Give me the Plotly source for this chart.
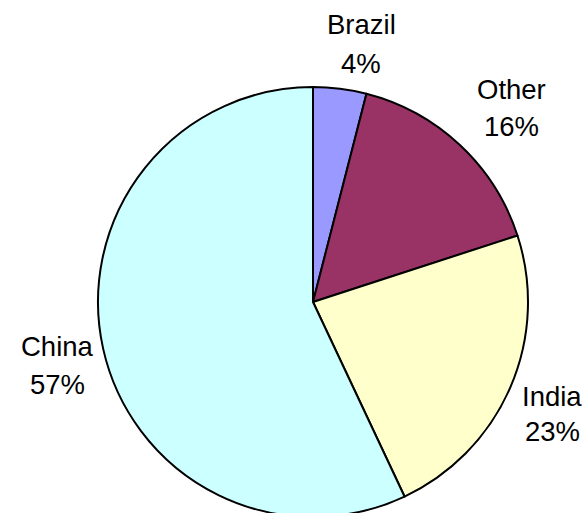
import plotly.graph_objects as go

labels = ["Brazil", "Other", "India", "China"]
values = [4, 16, 23, 57]
pct_text = ["4%", "16%", "23%", "57%"]
colors = ["#9999FF", "#993366", "#FFFFCC", "#CCFFFF"]

# label block placement (pixel centers of name line and percent line)
W, H = 586, 530
L, R, T, B = 98, 58, 87, 13
name_px = [(361, 24.5), (511, 89.5), (552, 396.5), (57, 346)]
pct_px = [(361, 63.5), (511, 127), (552, 431), (57, 384)]

def to_paper(px, py):
    pw = W - L - R
    ph = H - T - B
    return (px - L) / pw, 1 - (py - T) / ph

fig = go.Figure(go.Pie(
    labels=labels, values=values, sort=False, direction="clockwise", rotation=0,
    marker=dict(colors=colors, line=dict(color="black", width=2)),
    textinfo="none", hoverinfo="label+percent", showlegend=False,
))

font = dict(family="Liberation Sans, Arial, sans-serif", size=27.5, color="black")
ann = []
for i in range(len(labels)):
    for txt, (px, py) in ((labels[i], name_px[i]), (pct_text[i], pct_px[i])):
        x, y = to_paper(px, py)
        ann.append(dict(x=x, y=y, xref="paper", yref="paper", text=txt, showarrow=False,
                        xanchor="center", yanchor="middle", font=font))

fig.update_layout(
    width=W, height=H, margin=dict(l=L, r=R, t=T, b=B),
    paper_bgcolor="white", plot_bgcolor="white",
    annotations=ann,
)
fig.write_html("out.html")
